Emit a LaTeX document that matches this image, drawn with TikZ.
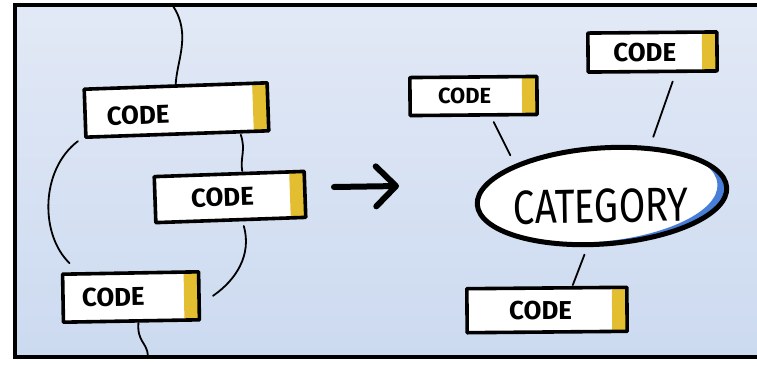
\documentclass[tikz,border=0pt]{standalone}
\usepackage{fontspec}
\setmainfont{Fira Sans}
\usetikzlibrary{arrows.meta,shapes.geometric,calc}

\definecolor{paperTop}{RGB}{226,233,246}
\definecolor{paperBottom}{RGB}{204,218,240}
\definecolor{marker}{RGB}{226,190,48}
\definecolor{sheen}{RGB}{72,126,216}

\tikzset{
  codebox/.style={rectangle, fill=white, draw=none, inner sep=0pt, outer sep=0pt},
  boxedge/.style={draw=black, line width=3.6bp, line join=round},
  stripe/.style={fill=marker},
  codetext/.style={font=\bfseries\fontsize{26}{26}\selectfont, inner sep=0pt},
  link/.style={draw=black, line width=1.8bp, line cap=round},
  bubble/.style={ellipse, fill=white, draw=none, inner sep=0pt, outer sep=2.5bp},
  bubbleedge/.style={draw=black, line width=5bp},
}

% yellow stripe at the right end of a tag, then its outline
\newcommand\tagstripe[1]{%
  \fill[stripe] ($(#1.north east)!15bp!(#1.north west)$) -- (#1.north east)
     -- (#1.south east) -- ($(#1.south east)!15bp!(#1.south west)$) -- cycle;
  \draw[boxedge] (#1.north west) -- (#1.north east) -- (#1.south east)
     -- (#1.south west) -- cycle;}

\begin{document}
\begin{tikzpicture}[x=1bp, y=-1bp]
\useasboundingbox (0,0) rectangle (757,365);
\fill[white] (0,0) rectangle (757,365);
\shade[top color=paperTop, bottom color=paperBottom] (15,5) rectangle (757,357);
\draw[line width=4bp] (757,5) -- (15,5) -- (15,357) -- (757,357);

% ---- left: a chain of tags ----
\node[codebox, minimum width=183bp, minimum height=48bp, rotate=2] (b1) at (176.5,110) {};
\tagstripe{b1}
\node[codetext, rotate=2] (t1) at ([yshift=-4bp]$(b1.west)!0.29!(b1.east)$) {CODE};

\node[codebox, minimum width=150bp, minimum height=46bp, rotate=2] (b2) at (230,197) {};
\tagstripe{b2}
\node[codetext, rotate=2] (t2) at ($(b2.west)!0.45!(b2.east)$) {CODE};

\node[codebox, minimum width=136bp, minimum height=48bp, rotate=1] (b3) at (131,297) {};
\tagstripe{b3}
\node[codetext, rotate=1] (t3) at ($(b3.west)!0.37!(b3.east)$) {CODE};

\coordinate (topend) at (173,6);
\coordinate (botend) at (148,356);

\draw[link] (topend) .. controls (192,35) and (176,62) .. (b1.north);
\draw[link] ([xshift=-8bp,yshift=-4bp]b1.south west) .. controls (40,170) and (40,235) .. ([xshift=7bp,yshift=11bp]b3.north west);
\draw[link] ([xshift=-28bp,yshift=-4bp]b1.south east) .. controls (246,150) and (240,158) .. ([xshift=13bp,yshift=3bp]b2.north);
\draw[link] ([xshift=13bp,yshift=-6bp]b2.south) .. controls (252,255) and (236,280) .. ([xshift=14bp]b3.east);
\draw[link] ([xshift=7bp,yshift=-2bp]b3.south) .. controls (137,342) and (147,342) .. (botend);

% ---- the arrow ----
\coordinate (arrS) at (334,187);
\coordinate (arrE) at (399,186);
\draw[line width=6bp, line cap=round, -{Straight Barb[length=20bp, width=40bp, line cap=round, round]}] (arrS) -- (arrE);

% ---- right: tags around a category ----
\node[bubble, minimum width=250bp, minimum height=96bp, rotate=4] (cat) at (602,196) {};
\begin{scope}[shift={(602,196)}, rotate=4]
  \begin{scope}
    \clip (0,0) ellipse [x radius=125, y radius=48];
    \fill[sheen, even odd rule] (0,0) ellipse [x radius=126, y radius=49]
         (-9,-4) ellipse [x radius=125, y radius=49.5];
  \end{scope}
  \draw[bubbleedge] (0,0) ellipse [x radius=125, y radius=48];
\end{scope}
\node[font=\fontsize{48}{48}\selectfont, inner sep=0pt, xscale=0.8, rotate=1] (ct) at (601,206) {CATEGORY};

\node[codebox, minimum width=127bp, minimum height=38bp, rotate=0.5] (b4) at (473.5,96) {};
\tagstripe{b4}
\node[codetext, font=\bfseries\fontsize{22}{22}\selectfont] (t4) at ($(b4.west)!0.43!(b4.east)$) {CODE};

\node[codebox, minimum width=129bp, minimum height=39bp, rotate=0.5] (b5) at (652.5,52) {};
\tagstripe{b5}
\node[codetext] (t5) at ($(b5.west)!0.44!(b5.east)$) {CODE};

\node[codebox, minimum width=160bp, minimum height=44bp, rotate=0.5] (b6) at (547,310) {};
\tagstripe{b6}
\node[codetext] (t6) at ($(b6.west)!0.46!(b6.east)$) {CODE};

\draw[link, shorten >=10bp] ([xshift=20bp,yshift=-7bp]b4.south) -- (cat.156);
\draw[link, shorten >=10bp] ([xshift=20bp,yshift=-10bp]b5.south) -- (cat.42);
\draw[link, shorten <=8bp] (cat.250) -- ([xshift=26bp,yshift=3bp]b6.north);
\end{tikzpicture}
\end{document}
